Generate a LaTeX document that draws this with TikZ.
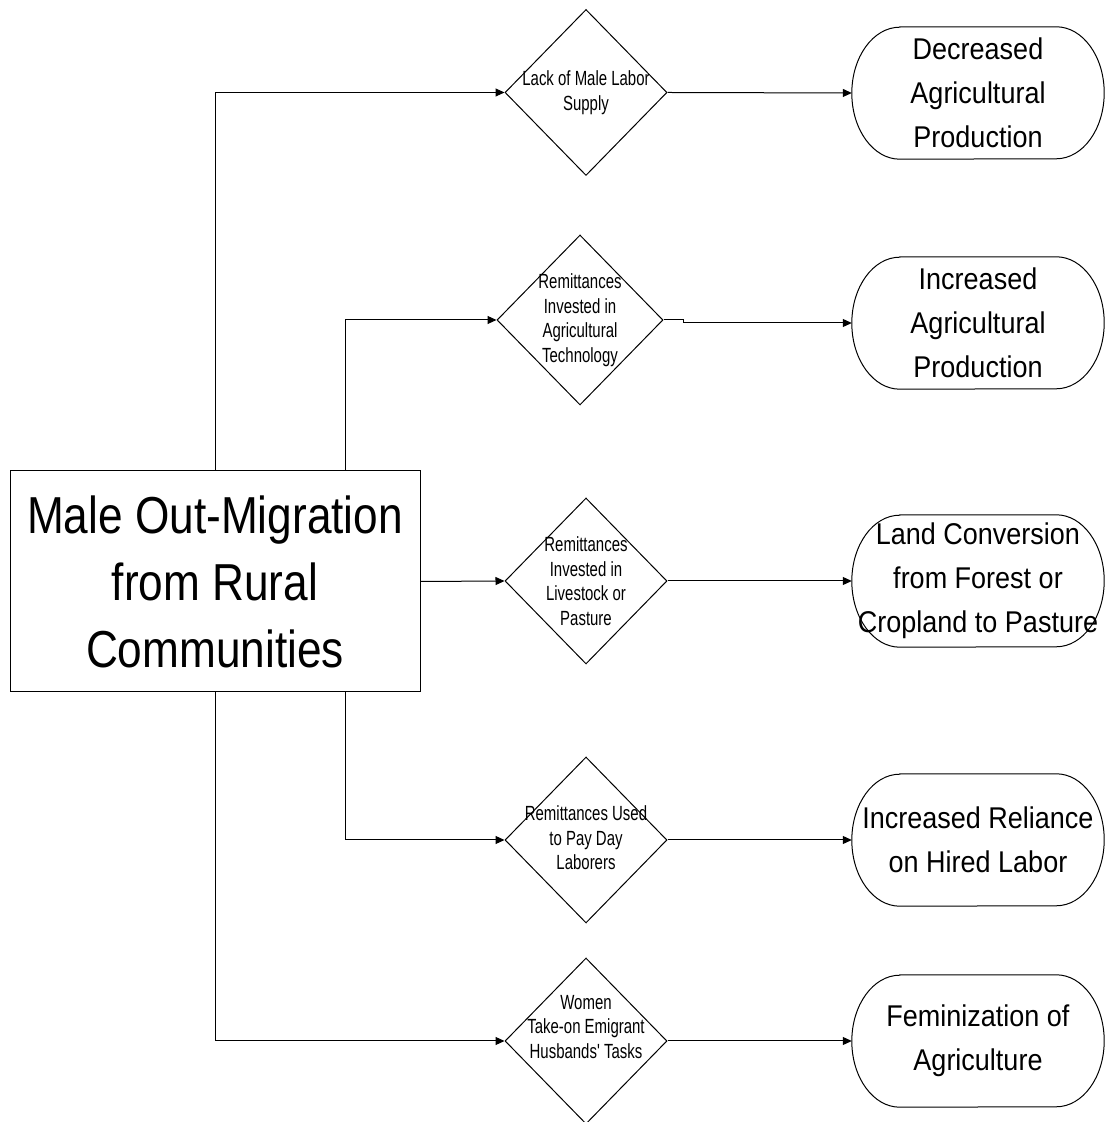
\documentclass[tikz,border=0pt]{standalone}
\usepackage{fontspec}
\setmainfont{Liberation Sans}
\newfontfamily\boxfont[FakeStretch=0.85]{Liberation Sans}
\newfontfamily\termfont[FakeStretch=0.9]{Liberation Sans}
\newfontfamily\decfont[FakeStretch=0.73]{Liberation Sans}
\usetikzlibrary{
    shapes.geometric,
    arrows.meta,
    positioning,
    calc
}

\begin{document}
\begin{tikzpicture}[
        x=1pt, y=1pt,
        box/.style={draw, line width=1pt, minimum width=410pt, minimum height=221pt, inner sep=0pt, align=center, font=\boxfont\fontsize{52}{67}\selectfont},
        dec/.style={diamond, draw, line width=1pt, inner sep=0pt, minimum width=162pt, minimum height=166pt},
        dectext/.style={align=center, font=\decfont\fontsize{20.5}{24.5}\selectfont},
        term/.style={minimum width=252pt, minimum height=132pt, inner sep=0pt, align=center, font=\termfont\fontsize{30}{44}\selectfont},
        arrow/.style={-{Triangle[length=9pt, width=8pt]}, line width=1pt}
    ]
        \useasboundingbox (0,0) rectangle (1104,1122);

        % Source
        \node[box] (main) at (215, 540.5) {Male Out-Migration\\from Rural\\Communities};

        % Decisions
        \node[dec, label={[dectext]center:Lack of Male Labor\\Supply}] (d1) at (586, 1029.5) {};
        \node[dec, minimum width=166pt, minimum height=170pt, label={[dectext]center:Remittances\\Invested in\\Agricultural\\Technology}] (d2) at (580, 802) {};
        \node[dec, label={[dectext]center:Remittances\\Invested in\\Livestock or\\Pasture}] (d3) at (586, 541) {};
        \node[dec, label={[dectext, yshift=2pt]center:Remittances Used\\to Pay Day\\Laborers}] (d4) at (586, 282) {};
        \node[dec, label={[dectext, yshift=14pt]center:Women\\Take-on Emigrant\\Husbands' Tasks}] (d5) at (586, 81) {};

        % Outcomes
        \node[term] (t1) at (978, 1029) {Decreased\\Agricultural\\Production};
        \node[term] (t2) at (978, 799) {Increased\\Agricultural\\Production};
        \node[term] (t3) at (978, 541) {Land Conversion\\from Forest or\\Cropland to Pasture};
        \node[term] (t4) at (978, 282) {Increased Reliance\\on Hired Labor};
        \node[term] (t5) at (978, 81) {Feminization of\\Agriculture};

        \foreach \t in {t1,t2,t3,t4,t5}
            \draw[line width=1pt] ($(\t.north west)+(48,0)$) -- ($(\t.north east)+(-48,0)$)
                arc[start angle=90, end angle=-90, x radius=48, y radius=66]
                -- ($(\t.south west)+(48,0)$)
                arc[start angle=270, end angle=90, x radius=48, y radius=66] -- cycle;

        % Arrows
        \draw[arrow] (main.north) |- (d1.west);
        \draw[arrow] ($(main.north)+(130,0)$) |- (d2.west);
        \draw[arrow] (main.east) -- (d3.west);
        \draw[arrow] ($(main.south)+(130,0)$) |- (d4.west);
        \draw[arrow] (main.south) |- (d5.west);

        \draw[arrow] (d1.east) -- (t1.west);
        \draw[arrow] (d2.east) -- ++(20,0) |- (t2.west);
        \draw[arrow] (d3.east) -- (t3.west);
        \draw[arrow] (d4.east) -- (t4.west);
        \draw[arrow] (d5.east) -- (t5.west);
    \end{tikzpicture}
\end{document}
